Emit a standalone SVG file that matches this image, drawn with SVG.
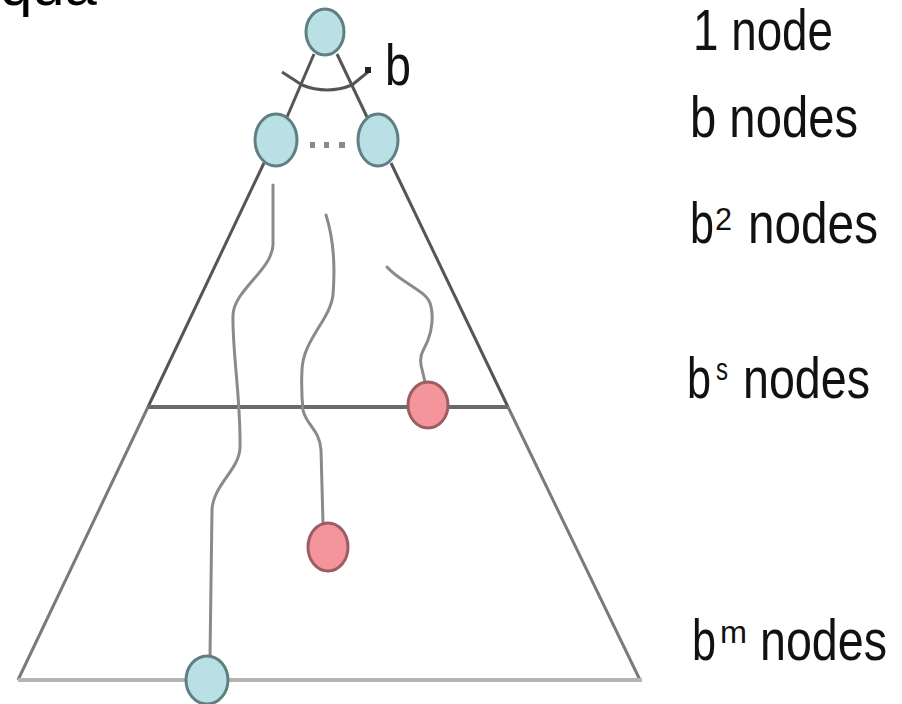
<svg xmlns="http://www.w3.org/2000/svg" width="902" height="704" viewBox="0 0 902 704">
<style>
.lbl{font-family:"Liberation Sans",Arial,sans-serif;font-size:58px;fill:#111}
.sup{font-family:"Liberation Sans",Arial,sans-serif;font-size:32px;fill:#111}
.blue{fill:#b9e0e4;stroke:#5f7f83;stroke-width:3}
.red{fill:#f4959b;stroke:#9c5e63;stroke-width:3}
.edge{stroke:#555;stroke-width:3;fill:none}
.side{stroke:#7a7a7a;stroke-width:3;fill:none}
.wave{stroke:#8a8a8a;stroke-width:3;fill:none;stroke-linecap:round;stroke-linejoin:round}
.dot{fill:#8a8a8a}
</style>
<rect width="902" height="704" fill="#fff"/>
<text x="0" y="5" font-family="Liberation Sans,Arial,sans-serif" font-size="58" fill="#000">qua</text>
<g id="connectors">
<line class="edge" x1="314" y1="54" x2="287" y2="117"/>
<line class="edge" x1="337" y1="54" x2="367" y2="117"/>
<path class="edge" d="M302,85 Q327,95 352,85" stroke-width="2.5"/>
<line class="edge" x1="282" y1="72" x2="302" y2="85" stroke-width="2.5"/>
<line class="edge" x1="352" y1="85" x2="368" y2="72" stroke-width="2.5"/>
<rect x="365" y="67" width="6" height="6" fill="#222"/>
<line class="edge" x1="264" y1="163" x2="148" y2="407"/>
<line class="edge" x1="391" y1="163" x2="508" y2="407"/>
<line class="side" x1="148" y1="407" x2="18" y2="680"/>
<line class="side" x1="508" y1="407" x2="640" y2="680"/>
<line x1="148" y1="407" x2="508" y2="407" stroke="#6a6a6a" stroke-width="4"/>
<line x1="18" y1="680" x2="642" y2="680" stroke="#b4b4b4" stroke-width="4"/>
<path class="wave" d="M273,185 L273,245 C272,270 234,290 233,315 C232,350 241,400 240,448 C239,470 213,485 212,510 L210,656"/>
<path class="wave" d="M326,215 C334,240 335,270 333,295 C330,320 303,340 302,370 C301,390 302,400 303,410 C306,425 320,430 321,450 L323,523"/>
<path class="wave" d="M387,267 C400,282 425,290 430,303 C434,315 432,330 428,340 C424,350 419,355 421,365 L425,382"/>
</g>
<g id="root"><ellipse class="blue" cx="325" cy="32" rx="19" ry="23"/></g>
<g id="child-left"><ellipse class="blue" cx="276" cy="140" rx="21" ry="26"/></g>
<g id="child-right"><ellipse class="blue" cx="378" cy="140" rx="20" ry="26"/></g>
<g id="dots"><rect class="dot" x="310" y="142" width="5" height="6"/><rect class="dot" x="324" y="142" width="5" height="6"/><rect class="dot" x="339" y="142" width="6" height="6"/></g>
<g id="branch-label"><text class="lbl" x="385" y="85" textLength="26" lengthAdjust="spacingAndGlyphs">b</text></g>
<g id="red-upper"><ellipse class="red" cx="428" cy="405" rx="20" ry="23"/></g>
<g id="red-lower"><ellipse class="red" cx="328" cy="547" rx="20" ry="24"/></g>
<g id="goal-bottom"><ellipse class="blue" cx="207" cy="680" rx="21" ry="24"/></g>
<g id="level-labels">
<text class="lbl" x="693" y="50" textLength="140" lengthAdjust="spacingAndGlyphs">1 node</text>
<text class="lbl" x="690" y="137" textLength="168" lengthAdjust="spacingAndGlyphs">b nodes</text>
<text class="lbl" x="690" y="243" textLength="24" lengthAdjust="spacingAndGlyphs">b</text>
<text class="sup" x="715" y="230" textLength="17" lengthAdjust="spacingAndGlyphs">2</text>
<text class="lbl" x="748" y="243" textLength="130" lengthAdjust="spacingAndGlyphs">nodes</text>
<text class="lbl" x="687" y="398" textLength="24" lengthAdjust="spacingAndGlyphs">b</text>
<text class="sup" x="716" y="380" font-size="26" textLength="12" lengthAdjust="spacingAndGlyphs">s</text>
<text class="lbl" x="743" y="398" textLength="127" lengthAdjust="spacingAndGlyphs">nodes</text>
<text class="lbl" x="692" y="660" textLength="24" lengthAdjust="spacingAndGlyphs">b</text>
<text class="sup" x="720" y="643" textLength="27" lengthAdjust="spacingAndGlyphs">m</text>
<text class="lbl" x="760" y="660" textLength="127" lengthAdjust="spacingAndGlyphs">nodes</text>
</g>
</svg>
